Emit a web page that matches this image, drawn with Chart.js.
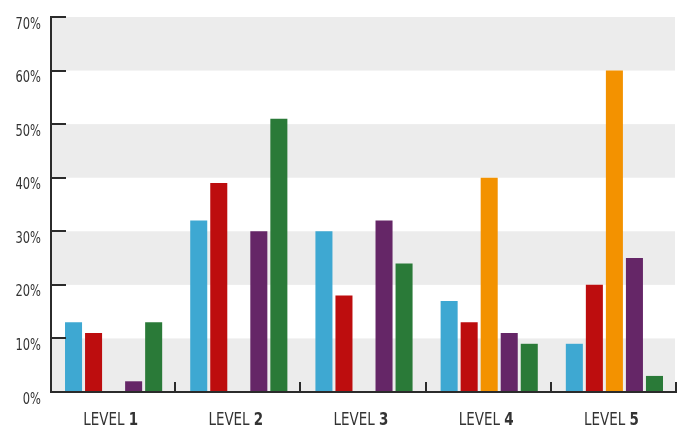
<!DOCTYPE html>
<html>
<head>
<meta charset="utf-8">
<script src="https://cdn.jsdelivr.net/npm/chart.js@4"></script>
<style>
  html, body { margin: 0; padding: 0; background: #ffffff; }
  #wrap { width: 685px; height: 428px; }
</style>
</head>
<body>
<div id="wrap"><canvas id="c" width="685" height="428"></canvas></div>
<script>
// Level numbers and category labels
const levels = ['1', '2', '3', '4', '5'];
const categories = levels.map(n => 'LEVEL ' + n);

// Share of respondents per level (%)
const seriesBlue   = [13, 32, 30, 17, 9];
const seriesRed    = [11, 39, 18, 13, 20];
const seriesOrange = [null, null, null, 40, 60];
const seriesPurple = [2, 30, 32, 11, 25];
const seriesGreen  = [13, 51, 24, 9, 3];

// Value axis
const yTicks = [0, 10, 20, 30, 40, 50, 60, 70];

const FONT = '"DejaVu Sans Condensed", "Liberation Sans Narrow", sans-serif';
const INK = '#2b2b2b';
const TEXT = '#333333';
const BAND = '#ececec';

// Draw text squeezed horizontally so it reads as a narrow face
function narrowText(ctx, parts, x, y, sx, align) {
  let total = 0;
  parts.forEach(p => { ctx.font = p.font; p.w = ctx.measureText(p.text).width; total += p.w; });
  const start = align === 'right' ? x - total * sx : x - total * sx / 2;
  ctx.save();
  ctx.translate(start, y);
  ctx.scale(sx, 1);
  let off = 0;
  parts.forEach(p => { ctx.font = p.font; ctx.fillText(p.text, off, 0); off += p.w; });
  ctx.restore();
}

// Alternating background bands, hand-drawn axes with inward ticks,
// and axis labels.
const decor = {
  id: 'decor',
  beforeDatasetsDraw(chart) {
    const { ctx, chartArea: a, scales: { y } } = chart;
    ctx.save();
    ctx.fillStyle = BAND;
    for (let i = 0; i < yTicks.length - 1; i += 2) {
      const top = y.getPixelForValue(yTicks[i + 1]);
      const bot = y.getPixelForValue(yTicks[i]);
      ctx.fillRect(a.left, top, a.right - 2 - a.left, bot - top);
    }
    ctx.restore();
  },
  afterDatasetsDraw(chart) {
    const { ctx, chartArea: a, scales: { y } } = chart;
    ctx.save();
    ctx.strokeStyle = INK;
    ctx.lineWidth = 2;
    // axis lines
    ctx.beginPath();
    ctx.moveTo(a.left, a.top - 1);
    ctx.lineTo(a.left, a.bottom);
    ctx.lineTo(a.right, a.bottom);
    ctx.stroke();
    // y ticks pointing inward
    ctx.beginPath();
    yTicks.forEach(v => {
      const py = Math.round(y.getPixelForValue(v));
      ctx.moveTo(a.left, py);
      ctx.lineTo(a.left + 15, py);
    });
    ctx.stroke();
    // x ticks at category boundaries, pointing up
    const step = (a.right - a.left) / categories.length;
    ctx.beginPath();
    for (let i = 1; i <= categories.length; i++) {
      const px = Math.round(a.left + i * step) - 1;
      ctx.moveTo(px, a.bottom);
      ctx.lineTo(px, a.bottom - 10);
    }
    ctx.stroke();
    ctx.restore();
  },
  afterDraw(chart) {
    const { ctx, chartArea: a, scales: { x, y } } = chart;
    ctx.save();
    ctx.fillStyle = TEXT;
    ctx.textBaseline = 'alphabetic';
    ctx.textAlign = 'left';
    // value labels hang just below their tick
    yTicks.forEach(v => {
      narrowText(ctx, [{ text: v + '%', font: '400 15px ' + FONT }],
        a.left - 10, y.getPixelForValue(v) + 11.5, 0.85, 'right');
    });
    // category labels: regular word, bold number
    levels.forEach((n, i) => {
      narrowText(ctx, [
        { text: 'LEVEL ', font: '400 18px ' + FONT },
        { text: n, font: '700 18px ' + FONT }
      ], x.getPixelForTick(i) - 3, a.bottom + 32.5, 0.83, 'center');
    });
    ctx.restore();
  }
};

const mk = (label, data, color) => ({
  label, data,
  backgroundColor: color,
  borderWidth: 0,
  categoryPercentage: 0.8,
  barPercentage: 0.85
});

new Chart(document.getElementById('c'), {
  type: 'bar',
  data: {
    labels: categories,
    datasets: [
      mk('A', seriesBlue,   '#3ea8d2'),
      mk('B', seriesRed,    '#bd0d0e'),
      mk('C', seriesOrange, '#f39200'),
      mk('D', seriesPurple, '#652667'),
      mk('E', seriesGreen,  '#2a7a38')
    ]
  },
  options: {
    responsive: false,
    animation: false,
    devicePixelRatio: 1,
    layout: { padding: { top: 17, right: 8, left: 0, bottom: 0 } },
    plugins: { legend: { display: false }, tooltip: { enabled: false } },
    scales: {
      x: {
        offset: true,
        grid: { display: false, drawTicks: false },
        border: { display: false },
        ticks: { color: 'rgba(0,0,0,0)', font: { family: FONT, size: 6 } },
        afterFit(scale) { scale.height = 36; }
      },
      y: {
        min: 0, max: 70,
        afterBuildTicks(scale) { scale.ticks = yTicks.map(v => ({ value: v })); },
        grid: { display: false, drawTicks: false },
        border: { display: false },
        ticks: {
          padding: 10,
          color: 'rgba(0,0,0,0)',
          font: { family: FONT, size: 6 },
          callback: v => v + '%'
        },
        afterFit(scale) { scale.width = 51; }
      }
    }
  },
  plugins: [decor]
});
</script>
</body>
</html>
